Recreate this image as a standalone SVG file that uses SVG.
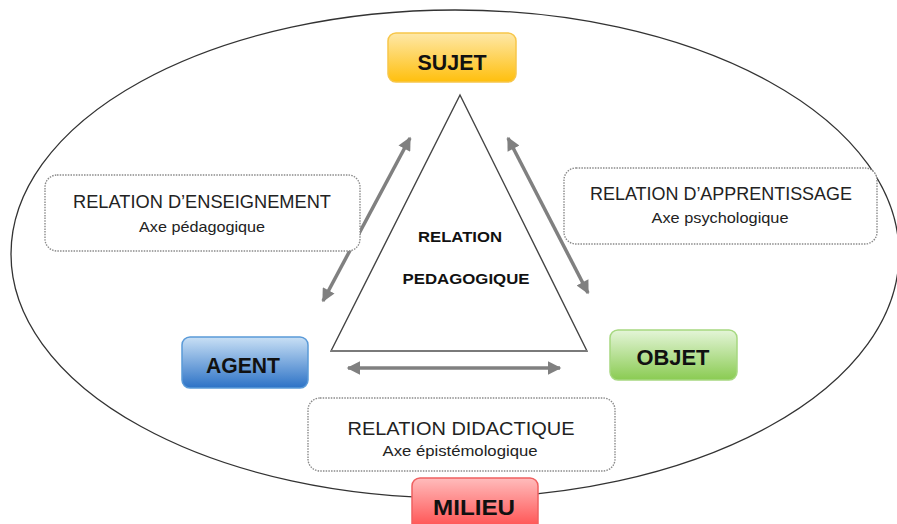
<svg xmlns="http://www.w3.org/2000/svg" width="897" height="524" viewBox="0 0 897 524">
<style>
.node text{font-family:"Liberation Sans",Arial,sans-serif;font-weight:bold;font-size:22px;fill:#111;text-anchor:middle}
.rel rect{fill:#fff;stroke:#8a8a8a;stroke-width:1.4;stroke-dasharray:1.5 1.2}
.rel text{font-family:"Liberation Sans",Arial,sans-serif;fill:#222;text-anchor:middle}
.t1{font-size:18px}
.t2{font-size:14.5px}
.center text{font-family:"Liberation Sans",Arial,sans-serif;font-weight:bold;font-size:14.5px;fill:#111;text-anchor:middle}
.conn line{stroke:#808080;stroke-width:3.5;marker-start:url(#ah);marker-end:url(#ah)}
</style>
<defs>
<linearGradient id="gY" x1="0" y1="0" x2="0" y2="1"><stop offset="0" stop-color="#fee8a8"/><stop offset="1" stop-color="#ffbf0d"/></linearGradient>
<linearGradient id="gB" x1="0" y1="0" x2="0" y2="1"><stop offset="0" stop-color="#c9e0f5"/><stop offset="1" stop-color="#2c72c6"/></linearGradient>
<linearGradient id="gG" x1="0" y1="0" x2="0" y2="1"><stop offset="0" stop-color="#e4f5d8"/><stop offset="1" stop-color="#8acb52"/></linearGradient>
<linearGradient id="gR" x1="0" y1="0" x2="0" y2="1"><stop offset="0" stop-color="#ffbcbc"/><stop offset="1" stop-color="#ff3b3b"/></linearGradient>
<marker id="ah" viewBox="0 0 10 10" refX="9" refY="5" markerWidth="4" markerHeight="3.8" orient="auto-start-reverse" markerUnits="strokeWidth">
<path d="M0,0 L10,5 L0,10 Z" fill="#808080"/>
</marker>
</defs>
<rect width="897" height="524" fill="#fff"/>
<ellipse cx="455" cy="254" rx="444" ry="244" fill="none" stroke="#333" stroke-width="1.3"/>

<g id="triangle" class="center">
<polygon points="460,95 331,351 587,351" fill="#fff" stroke="#444" stroke-width="1.4"/>
<line x1="331" y1="351" x2="587" y2="351" stroke="#7a7a7a" stroke-width="2.2"/>
<text x="460" y="242" textLength="84" lengthAdjust="spacingAndGlyphs">RELATION</text>
<text x="466" y="284" textLength="127" lengthAdjust="spacingAndGlyphs">PEDAGOGIQUE</text>
</g>

<g id="connectors" class="conn">
<line x1="323" y1="301" x2="410" y2="138"/>
<line x1="508" y1="138" x2="588" y2="293"/>
<line x1="348" y1="368" x2="560" y2="368"/>
</g>

<g id="rel-enseignement" class="rel">
<rect x="45" y="175" width="315" height="76" rx="12"/>
<text class="t1" x="202" y="208" textLength="258" lengthAdjust="spacingAndGlyphs">RELATION D’ENSEIGNEMENT</text>
<text class="t2" x="202" y="232" textLength="126" lengthAdjust="spacingAndGlyphs">Axe pédagogique</text>
</g>

<g id="rel-apprentissage" class="rel">
<rect x="564" y="168" width="313" height="76" rx="12"/>
<text class="t1" x="721" y="200" textLength="262" lengthAdjust="spacingAndGlyphs">RELATION D’APPRENTISSAGE</text>
<text class="t2" x="720" y="223" textLength="137" lengthAdjust="spacingAndGlyphs">Axe psychologique</text>
</g>

<g id="rel-didactique" class="rel">
<rect x="308" y="398" width="307" height="73" rx="12"/>
<text class="t1" x="461" y="435" textLength="227" lengthAdjust="spacingAndGlyphs">RELATION DIDACTIQUE</text>
<text class="t2" x="460" y="456" textLength="155" lengthAdjust="spacingAndGlyphs">Axe épistémologique</text>
</g>

<g id="sujet" class="node">
<rect x="388" y="33" width="128" height="49" rx="8" fill="url(#gY)" stroke="#f7c64a" stroke-width="1.5"/>
<text x="452" y="70" textLength="69" lengthAdjust="spacingAndGlyphs">SUJET</text>
</g>

<g id="agent" class="node">
<rect x="182" y="337" width="126" height="51" rx="8" fill="url(#gB)" stroke="#5a9ad8" stroke-width="1.5"/>
<text x="243" y="373" textLength="74" lengthAdjust="spacingAndGlyphs">AGENT</text>
</g>

<g id="objet" class="node">
<rect x="610" y="330" width="127" height="50" rx="8" fill="url(#gG)" stroke="#a6d880" stroke-width="1.5"/>
<text x="673" y="365" textLength="73" lengthAdjust="spacingAndGlyphs">OBJET</text>
</g>

<g id="milieu" class="node">
<rect x="412" y="478" width="126" height="60" rx="8" fill="url(#gR)" stroke="#f06060" stroke-width="1.5"/>
<text x="474" y="515" textLength="82" lengthAdjust="spacingAndGlyphs">MILIEU</text>
</g>
</svg>
